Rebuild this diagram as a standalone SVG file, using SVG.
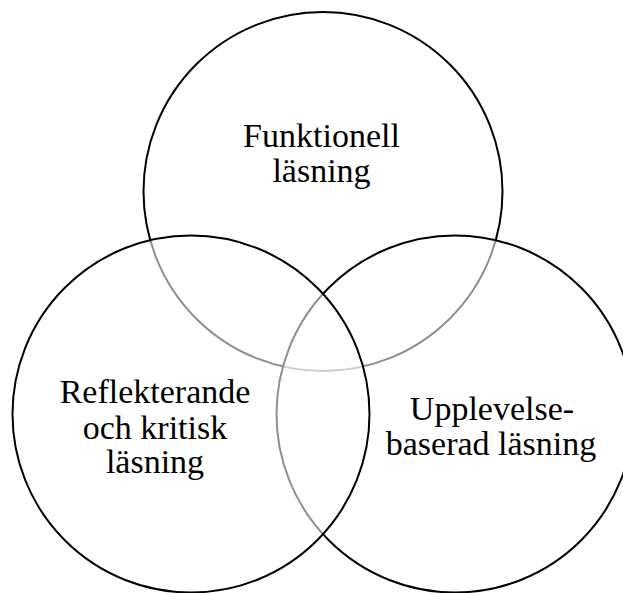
<svg xmlns="http://www.w3.org/2000/svg" width="623" height="593" viewBox="0 0 623 593">
<style>
.c{fill:#fff;fill-opacity:0.56;stroke:#000;stroke-width:2}
.t{font-family:"Liberation Serif","Times New Roman",serif;font-size:34px;fill:#000;text-anchor:middle}
</style>
<rect width="623" height="593" fill="#fff"/>
<g id="funktionell">
<circle class="c" cx="323" cy="191.5" r="179.5"/>
<text class="t" x="321.5" y="147">Funktionell</text>
<text class="t" x="321.5" y="182">läsning</text>
</g>
<g id="upplevelsebaserad">
<circle class="c" cx="455" cy="414" r="178.5"/>
<text class="t" x="492" y="420">Upplevelse-</text>
<text class="t" x="491" y="455">baserad läsning</text>
</g>
<g id="reflekterande">
<circle class="c" cx="191" cy="414" r="178.5"/>
<text class="t" x="155" y="403">Reflekterande</text>
<text class="t" x="155" y="439">och kritisk</text>
<text class="t" x="155" y="473">läsning</text>
</g>
<g id="connectors"/>
</svg>
